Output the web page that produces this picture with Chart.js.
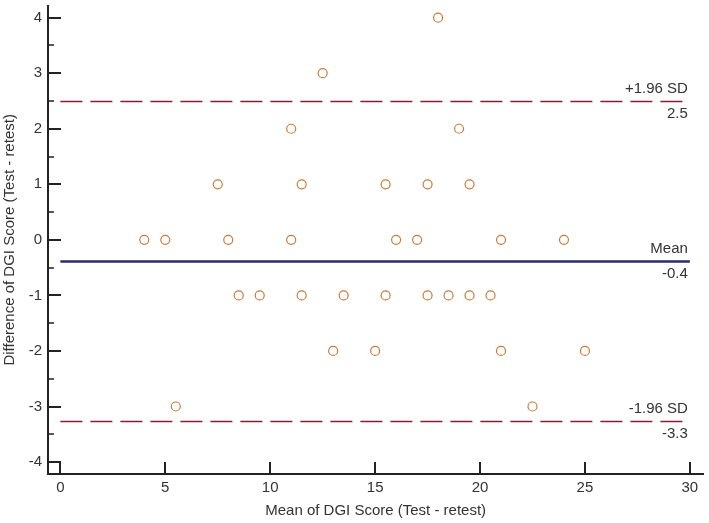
<!DOCTYPE html>
<html>
<head>
<meta charset="utf-8">
<script src="https://cdn.jsdelivr.net/npm/chart.js@4"></script>
<style>
  html, body { margin: 0; padding: 0; background: #fff; }
  #wrap { width: 709px; height: 523px; }
</style>
</head>
<body>
<div id="wrap"><canvas id="baChart" width="709" height="523"></canvas></div>
<script>
// Bland-Altman data: mean of test/retest vs difference
const meanScores = [18, 12.5, 11, 19, 7.5, 11.5, 15.5, 17.5, 19.5,
    4, 5, 8, 11, 16, 17, 21, 24,
    8.5, 9.5, 11.5, 13.5, 15.5, 17.5, 18.5, 19.5, 20.5,
    13, 15, 21, 25,
    5.5, 22.5];
const diffScores = [4, 3, 2, 2, 1, 1, 1, 1, 1,
    0, 0, 0, 0, 0, 0, 0, 0,
    -1, -1, -1, -1, -1, -1, -1, -1, -1,
    -2, -2, -2, -2,
    -3, -3];

const limitValues = [2.49, -0.39, -3.27];
const limitNames = ["+1.96 SD", "Mean", "-1.96 SD"];
const xTicks = [0, 5, 10, 15, 20, 25, 30];
const yTicks = [-4, -3, -2, -1, 0, 1, 2, 3, 4];
const yMinorTicks = [-3.5, -2.5, -1.5, -0.5, 0.5, 1.5, 2.5, 3.5];

const FONT = "'Liberation Sans', Arial, sans-serif";
const TEXT = "#333";

const points = meanScores.map((m, i) => ({ x: m, y: diffScores[i] }));

function limitLine(v, color, dash, width) {
    return {
        type: "line",
        data: [{ x: 0, y: v }, { x: 30, y: v }],
        borderColor: color,
        borderWidth: width,
        borderDash: dash,
        pointRadius: 0,
        fill: false
    };
}

/* inward tick marks + limit labels */
const baExtras = {
    id: "baExtras",
    afterDraw(chart) {
        const ctx = chart.ctx;
        const xs = chart.scales.x, ys = chart.scales.y;
        const area = chart.chartArea;
        ctx.save();
        ctx.strokeStyle = "#222";
        ctx.lineWidth = 2;
        ctx.beginPath();
        yTicks.forEach(v => {
            const py = Math.round(ys.getPixelForValue(v));
            ctx.moveTo(area.left, py);
            ctx.lineTo(area.left + 13, py);
        });
        xTicks.forEach(v => {
            const px = Math.round(xs.getPixelForValue(v));
            ctx.moveTo(px, area.bottom);
            ctx.lineTo(px, area.bottom - 12);
        });
        ctx.stroke();
        ctx.lineWidth = 1.5;
        ctx.beginPath();
        yMinorTicks.forEach(v => {
            const py = Math.round(ys.getPixelForValue(v));
            ctx.moveTo(area.left, py);
            ctx.lineTo(area.left + 6, py);
        });
        ctx.stroke();

        ctx.fillStyle = TEXT;
        ctx.font = "15px " + FONT;
        ctx.textAlign = "right";
        ctx.textBaseline = "middle";
        const rx = xs.getPixelForValue(30) - 2;
        limitValues.forEach((v, i) => {
            const py = ys.getPixelForValue(v);
            ctx.fillText(limitNames[i], rx, py - 13);
            ctx.fillText(v.toFixed(1), rx, py + 12);
        });
        ctx.restore();
    }
};

new Chart(document.getElementById("baChart"), {
    type: "scatter",
    data: {
        datasets: [
            limitLine(limitValues[0], "#8a1c30", [22, 8], 1.5),
            limitLine(limitValues[1], "#2b2a6b", [], 2.5),
            limitLine(limitValues[2], "#8a1c30", [22, 8], 1.5),
            {
                type: "scatter",
                data: points,
                pointStyle: "circle",
                pointRadius: 4.5,
                pointBorderWidth: 1.2,
                pointBorderColor: "#cc7a3a",
                pointBackgroundColor: "#fff"
            }
        ]
    },
    options: {
        responsive: false,
        animation: false,
        layout: { padding: { top: 3, right: 3, left: 0, bottom: 0 } },
        plugins: {
            legend: { display: false },
            tooltip: { enabled: false }
        },
        scales: {
            x: {
                type: "linear",
                min: -0.59,
                max: 30.64,
                afterBuildTicks: s => { s.ticks = xTicks.map(v => ({ value: v })); },
                afterFit: s => { s.height = 49; s.paddingLeft = 0; s.paddingRight = 0; },
                grid: { display: true, drawOnChartArea: false, drawTicks: false },
                border: { display: true, color: "#222", width: 2 },
                ticks: { color: TEXT, font: { family: FONT, size: 15 }, padding: 5, maxRotation: 0, autoSkip: false },
                title: {
                    display: true,
                    text: "Mean of DGI Score (Test - retest)",
                    color: TEXT,
                    font: { family: FONT, size: 15 },
                    padding: { top: 0, bottom: 3 }
                }
            },
            y: {
                type: "linear",
                min: -4.215,
                max: 4.215,
                afterBuildTicks: s => { s.ticks = yTicks.map(v => ({ value: v })); },
                afterFit: s => { s.width = 48; s.paddingTop = 0; s.paddingBottom = 0; },
                grid: { display: true, drawOnChartArea: false, drawTicks: false },
                border: { display: true, color: "#222", width: 2 },
                ticks: { color: TEXT, font: { family: FONT, size: 15 }, padding: 6, autoSkip: false },
                title: {
                    display: true,
                    text: "Difference of DGI Score (Test - retest)",
                    color: TEXT,
                    font: { family: FONT, size: 15 },
                    padding: { top: 1, bottom: 0 }
                }
            }
        }
    },
    plugins: [baExtras]
});
</script>
</body>
</html>
